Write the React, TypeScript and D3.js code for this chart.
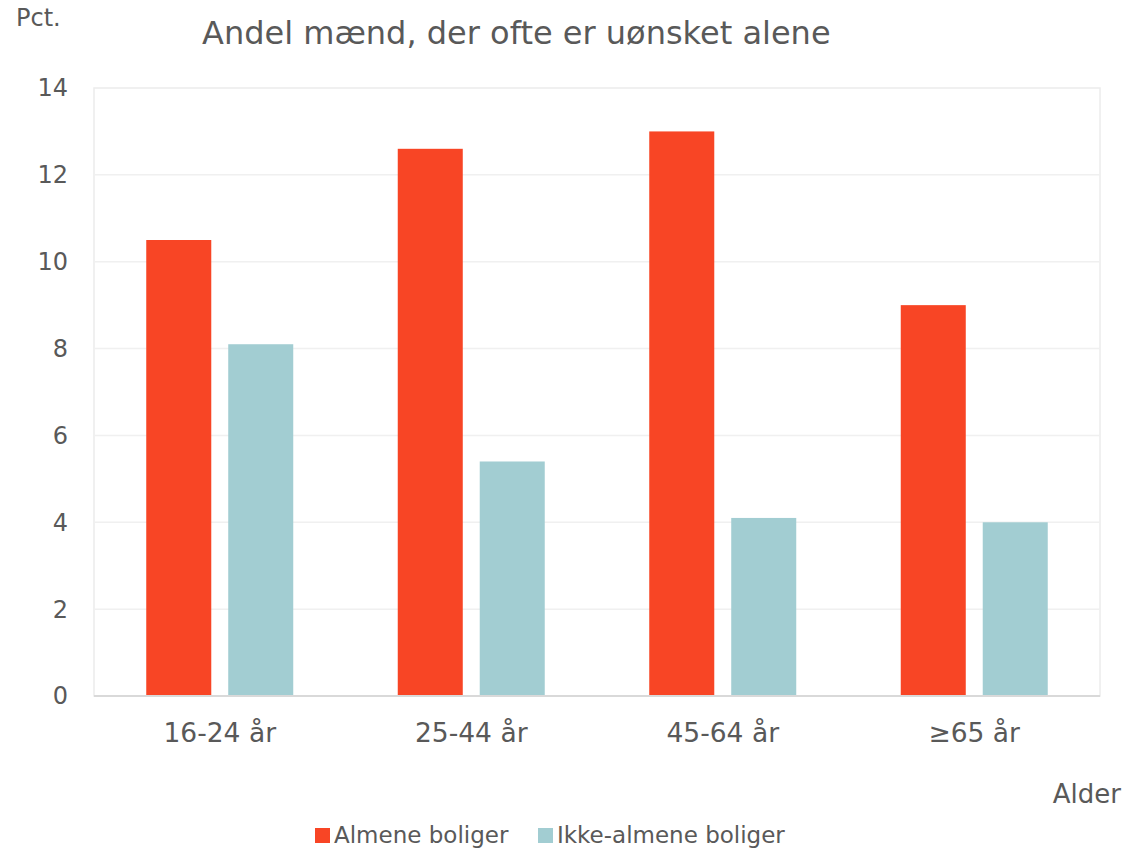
import React, { useRef, useEffect } from "react";
import * as d3 from "d3";

const categories = ["16-24 år", "25-44 år", "45-64 år", "≥65 år"];
const seriesNames = ["Almene boliger", "Ikke-almene boliger"];
const almene = [10.5, 12.6, 13.0, 9.0];
const ikkeAlmene = [8.1, 5.4, 4.1, 4.0];
const yTicks = [0, 2, 4, 6, 8, 10, 12, 14];
const colors = ["#f84525", "#a2cdd2"];

const W = 1124;
const H = 849;
const margin = { top: 88, right: 24, bottom: 153, left: 94 };
const font = "'DejaVu Sans', Verdana, sans-serif";
const textColor = "#595959";

const App = () => {
  const svgRef = useRef<SVGSVGElement>(null);

  useEffect(() => {
    const svg = d3.select(svgRef.current);
    svg.selectAll("*").remove();

    const width = W - margin.left - margin.right;
    const height = H - margin.top - margin.bottom;

    const x = d3.scaleBand().domain(categories).range([0, width]);
    const inner = d3.scaleBand().domain(seriesNames).range([0, 147]).paddingInner(0.207);
    const y = d3.scaleLinear().domain([0, 14]).range([height, 0]);

    const g = svg.append("g").attr("transform", `translate(${margin.left},${margin.top})`);

    // plot frame + gridlines
    g.append("rect")
      .attr("x", 0).attr("y", 0).attr("width", width).attr("height", height)
      .attr("fill", "none").attr("stroke", "#ececec").attr("stroke-width", 1.5);

    g.selectAll(".grid")
      .data(yTicks.filter((t) => t > 0 && t < 14))
      .enter()
      .append("line")
      .attr("x1", 0).attr("x2", width)
      .attr("y1", (d) => y(d)).attr("y2", (d) => y(d))
      .attr("stroke", "#f0f0f0").attr("stroke-width", 1.5);

    // y tick labels
    g.selectAll(".ytick")
      .data(yTicks)
      .enter()
      .append("text")
      .attr("x", -26)
      .attr("y", (d) => y(d))
      .attr("dy", "0.35em")
      .attr("text-anchor", "end")
      .style("font-family", font)
      .style("font-size", "24px")
      .attr("fill", textColor)
      .text((d) => d);

    // bars
    const data = categories.map((c, i) => ({ cat: c, values: [almene[i], ikkeAlmene[i]] }));
    const groups = g.selectAll(".grp")
      .data(data)
      .enter()
      .append("g")
      .attr("transform", (d) => `translate(${x(d.cat)! + (x.bandwidth() - 147) / 2},0)`);

    groups.selectAll("rect")
      .data((d) => d.values.map((v, j) => ({ name: seriesNames[j], v, j })))
      .enter()
      .append("rect")
      .attr("x", (d) => inner(d.name)!)
      .attr("width", inner.bandwidth())
      .attr("y", (d) => y(d.v))
      .attr("height", (d) => height - y(d.v))
      .attr("fill", (d) => colors[d.j]);

    // x axis line
    g.append("line")
      .attr("x1", 0).attr("x2", width)
      .attr("y1", height).attr("y2", height)
      .attr("stroke", "#d9d9d9").attr("stroke-width", 2);

    // category labels
    g.selectAll(".xlab")
      .data(categories)
      .enter()
      .append("text")
      .attr("x", (d) => x(d)! + x.bandwidth() / 2)
      .attr("y", height + 46)
      .attr("text-anchor", "middle")
      .style("font-family", font)
      .style("font-size", "26.5px")
      .attr("fill", textColor)
      .text((d) => d);

    // title and axis titles
    svg.append("text")
      .attr("x", 202).attr("y", 44)
      .style("font-family", font).style("font-size", "32px")
      .attr("fill", textColor)
      .text("Andel mænd, der ofte er uønsket alene");

    svg.append("text")
      .attr("x", 16).attr("y", 26)
      .style("font-family", font).style("font-size", "24px")
      .attr("fill", textColor)
      .text("Pct.");

    svg.append("text")
      .attr("x", 1121).attr("y", 803)
      .attr("text-anchor", "end")
      .style("font-family", font).style("font-size", "26px")
      .attr("fill", textColor)
      .text("Alder");

    // legend
    const legendX = [315, 538];
    const legend = svg.selectAll(".leg")
      .data(seriesNames)
      .enter()
      .append("g")
      .attr("transform", (d, i) => `translate(${legendX[i]},828)`);
    legend.append("rect")
      .attr("width", 15).attr("height", 15)
      .attr("fill", (d, i) => colors[i]);
    legend.append("text")
      .attr("x", 19).attr("y", 15)
      .style("font-family", font).style("font-size", "23px")
      .attr("fill", textColor)
      .text((d) => d);
  }, []);

  return (
    <svg
      ref={svgRef}
      width={W}
      height={H}
      style={{ position: "absolute", left: 0, top: 0, background: "#fff" }}
    />
  );
};

export default App;
